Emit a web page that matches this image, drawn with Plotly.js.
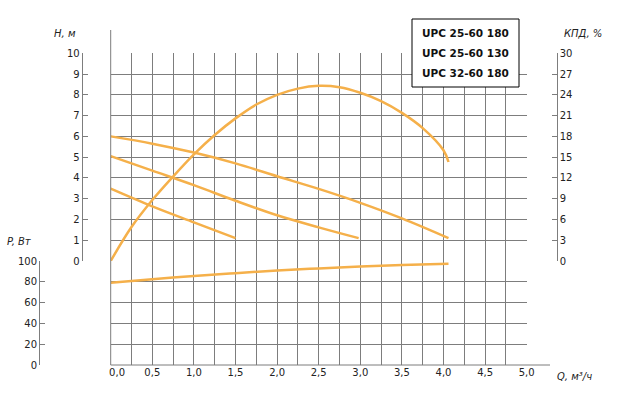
<!DOCTYPE html>
<html><head><meta charset="utf-8">
<script src="https://cdn.plot.ly/plotly-3.0.1.min.js"></script>
<style>html,body{margin:0;padding:0;background:#fff}</style>
</head><body><div id="chart" style="width:620px;height:410px"></div>
<script>
// ---- data ----
const legendNames = ['UPC 25-60 180', 'UPC 25-60 130', 'UPC 32-60 180'];

const qH1 = [0, 0.5, 1.0, 1.5, 2.0, 2.5, 3.0, 3.5, 4.06];
const hH1 = [6.0, 5.65, 5.22, 4.7, 4.08, 3.47, 2.8, 2.05, 1.1];

const qH2 = [0, 0.5, 1.0, 1.5, 2.0, 2.5, 2.98];
const hH2 = [5.05, 4.35, 3.65, 2.9, 2.2, 1.62, 1.1];

const qH3 = [0, 0.5, 1.0, 1.5];
const hH3 = [3.48, 2.63, 1.86, 1.1];

const qEff = [0, 0.25, 0.5, 0.75, 1.0, 1.25, 1.5, 1.75, 2.0, 2.25, 2.5, 2.75, 3.0, 3.25, 3.5, 3.75, 4.0, 4.06];
const eff  = [0, 4.9, 8.8, 12.2, 15.4, 18.2, 20.6, 22.6, 24.0, 24.9, 25.3, 25.1, 24.3, 23.1, 21.4, 19.2, 16.0, 14.3];

const qPow = [0, 0.5, 1.0, 1.5, 2.0, 2.5, 3.0, 3.5, 4.06];
const pow  = [79, 82.5, 85.6, 88.3, 90.8, 92.9, 94.7, 96.2, 97.3];

const xTickVals = [0, 0.25, 0.5, 0.75, 1.0, 1.25, 1.5, 1.75, 2.0, 2.25, 2.5, 2.75, 3.0, 3.25, 3.5, 3.75, 4.0, 4.25, 4.5, 4.75, 5.0];
const xTickText = ['0,0', '', '0,5', '', '1,0', '', '1,5', '', '2,0', '', '2,5', '', '3,0', '', '3,5', '', '4,0', '', '4,5', '', '5,0'];

// ---- style ----
const W = 620, H = 410;
const px = v => v / W;
const py = v => (H - v) / H;
const curveColor = '#f5b04a';
const gridColor = '#7d7d7d';
const gw = 1;
const tickFont = {family: 'DejaVu Sans', size: 10, color: '#222'};
const titleFont = {family: 'DejaVu Sans', size: 10, color: '#222'};

const line = {color: curveColor, width: 2.5, shape: 'spline', smoothing: 1};

const traces = [
  {x: qH1, y: hH1, xaxis: 'x', yaxis: 'y', mode: 'lines', line: line, name: legendNames[0]},
  {x: qH2, y: hH2, xaxis: 'x', yaxis: 'y', mode: 'lines', line: line, name: legendNames[1]},
  {x: qH3, y: hH3, xaxis: 'x', yaxis: 'y', mode: 'lines', line: line, name: legendNames[2]},
  {x: qEff, y: eff, xaxis: 'x', yaxis: 'y3', mode: 'lines', line: line, name: 'КПД'},
  {x: qPow, y: pow, xaxis: 'x', yaxis: 'y2', mode: 'lines', line: line, name: 'P'}
];

const xL = 110.7, xR = 526.7, yTop = 53.3, yMid = 261, yBot = 365;

const yCommon = {
  showgrid: true, gridcolor: gridColor, gridwidth: gw, zeroline: false,
  showline: true, linecolor: gridColor, linewidth: gw,
  ticks: 'inside', ticklen: 5, tickcolor: gridColor, tickwidth: gw,
  tickfont: tickFont, anchor: 'free', fixedrange: true
};

const layout = {
  width: W, height: H,
  margin: {l: 0, r: 0, t: 0, b: 0},
  paper_bgcolor: '#fff', plot_bgcolor: '#fff',
  showlegend: false,
  xaxis: {
    domain: [px(xL), px(xR)], range: [0, 5], anchor: 'y2',
    tickmode: 'array', tickvals: xTickVals,
    ticktext: xTickText.map((t, i) => i === 0 ? '\u2007\u2007' + t : t),
    ticks: '', showgrid: true, gridcolor: gridColor, gridwidth: gw,
    zeroline: false, showline: false, tickfont: tickFont, fixedrange: true
  },
  yaxis: Object.assign({}, yCommon, {
    domain: [py(yMid), py(yTop)], range: [0, 10], tick0: 0, dtick: 1,
    position: px(81.7)
  }),
  yaxis2: Object.assign({}, yCommon, {
    domain: [py(yBot), py(yMid)], range: [0, 100], tick0: 0, dtick: 20,
    position: px(39)
  }),
  yaxis3: Object.assign({}, yCommon, {
    overlaying: 'y', side: 'right', range: [0, 30], tick0: 0, dtick: 3,
    showgrid: false, position: px(556.7)
  }),
  shapes: [
    {type: 'line', xref: 'paper', yref: 'paper', x0: px(xL), x1: px(xL), y0: py(yBot), y1: py(30),
     line: {color: gridColor, width: gw}},
    {type: 'line', xref: 'paper', yref: 'paper', x0: px(xL), x1: px(550), y0: py(yBot), y1: py(yBot),
     line: {color: gridColor, width: gw}},
    {type: 'rect', xref: 'paper', yref: 'paper', x0: px(412), x1: px(519), y0: py(87), y1: py(19),
     fillcolor: '#fff', line: {color: '#000', width: 1}}
  ],
  annotations: [
    {text: '<i>H, м</i>', xref: 'paper', yref: 'paper', x: px(77.5), y: py(33.3), xanchor: 'right', yanchor: 'middle', showarrow: false, font: titleFont},
    {text: '<i>P, Вт</i>', xref: 'paper', yref: 'paper', x: px(33.5), y: py(241), xanchor: 'right', yanchor: 'middle', showarrow: false, font: titleFont},
    {text: '<i>КПД, %</i>', xref: 'paper', yref: 'paper', x: px(561.5), y: py(33.3), xanchor: 'left', yanchor: 'middle', showarrow: false, font: titleFont},
    {text: '<i>Q, м³/ч</i>', xref: 'paper', yref: 'paper', x: px(555), y: py(376), xanchor: 'left', yanchor: 'middle', showarrow: false, font: titleFont}
  ].concat(legendNames.map((n, i) => ({
    text: '<b>' + n + '</b>', xref: 'paper', yref: 'paper', x: px(465.5), y: py(32.7 + i * 20.3),
    xanchor: 'center', yanchor: 'middle', showarrow: false,
    font: {family: 'DejaVu Sans', size: 10.5, color: '#111'}
  })))
};

Plotly.newPlot('chart', traces, layout, {staticPlot: true, displayModeBar: false});
</script>
</body></html>
